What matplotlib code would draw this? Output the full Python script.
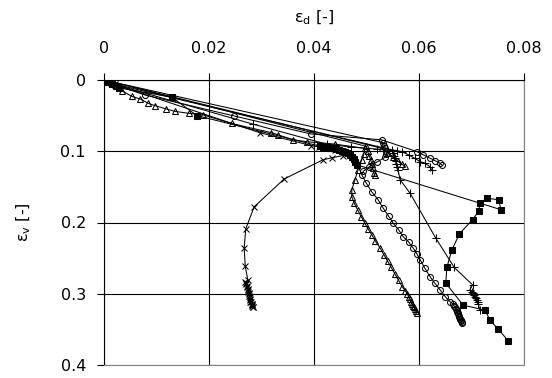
import matplotlib
matplotlib.use("Agg")
import matplotlib.pyplot as plt

plt.rcParams['font.family'] = ['DejaVu Sans']
plt.rcParams['mathtext.default'] = 'regular'

# deviatoric strain (eps_d) and volumetric strain (eps_v) per test
sq_d = [0, 0.0008, 0.0015, 0.0022, 0.0028, 0.0129, 0.0177,
        0.0412, 0.0418, 0.0424, 0.0430, 0.0436, 0.0442, 0.0448, 0.0454, 0.0459,
        0.0464, 0.0469, 0.0473, 0.0476, 0.0479, 0.0481,
        0.0756, 0.0752, 0.0729, 0.0716, 0.0714, 0.0702, 0.0677, 0.0663, 0.0653,
        0.0651, 0.0684, 0.0726, 0.0735, 0.0750, 0.0770]
sq_v = [0, 0.003, 0.006, 0.009, 0.011, 0.024, 0.050,
        0.093, 0.0935, 0.094, 0.095, 0.096, 0.097, 0.098, 0.0995, 0.101,
        0.103, 0.105, 0.108, 0.111, 0.115, 0.119,
        0.182, 0.168, 0.166, 0.173, 0.184, 0.196, 0.216, 0.238, 0.263,
        0.285, 0.316, 0.323, 0.337, 0.349, 0.366]

c1_d = [0, 0.0012, 0.0025, 0.0078, 0.0248, 0.0394, 0.0529,
        0.0596, 0.0608, 0.0621, 0.0630, 0.0640, 0.0644]
c1_v = [0, 0.004, 0.008, 0.021, 0.0505, 0.0757, 0.084,
        0.1005, 0.105, 0.1098, 0.113, 0.1167, 0.1197]

c2_d = [0, 0.0532, 0.0534, 0.0536, 0.0537, 0.0538, 0.0536, 0.0520, 0.0505,
        0.0494, 0.0491, 0.0499, 0.0510, 0.0522, 0.0532, 0.0542, 0.0551, 0.0561,
        0.0570, 0.0580, 0.0589, 0.0596, 0.0602, 0.0611, 0.0621, 0.0630, 0.0640,
        0.0650, 0.0659, 0.0664, 0.0667, 0.0669, 0.0671, 0.0672, 0.0673, 0.0674,
        0.0675, 0.0676, 0.0677, 0.0678, 0.0679, 0.0680, 0.0680, 0.0681, 0.0681]
c2_v = [0, 0.088, 0.092, 0.096, 0.100, 0.104, 0.108, 0.115, 0.122,
        0.128, 0.133, 0.144, 0.157, 0.168, 0.180, 0.191, 0.201, 0.210,
        0.220, 0.227, 0.236, 0.244, 0.252, 0.264, 0.276, 0.285, 0.2945,
        0.304, 0.311, 0.314, 0.317, 0.319, 0.321, 0.323, 0.325, 0.327,
        0.329, 0.331, 0.333, 0.335, 0.336, 0.337, 0.338, 0.339, 0.341]

p1_d = [0, 0.0015, 0.0284, 0.0424, 0.0470, 0.0520, 0.0558, 0.0567, 0.0580,
        0.0592, 0.0602, 0.0611, 0.0621, 0.0624]
p1_v = [0, 0.005, 0.062, 0.090, 0.094, 0.097, 0.099, 0.1005, 0.105,
        0.110, 0.1146, 0.1168, 0.1216, 0.126]

p2_d = [0, 0.0010, 0.0548, 0.0551, 0.0553, 0.0555, 0.0556, 0.0557, 0.0558,
        0.0560, 0.0564, 0.0583, 0.0632, 0.0667, 0.0702, 0.0697, 0.0700, 0.0703,
        0.0705, 0.0707, 0.0709, 0.0710, 0.0712, 0.0713, 0.0716]
p2_v = [0, 0.004, 0.098, 0.102, 0.106, 0.110, 0.114, 0.118, 0.122,
        0.126, 0.140, 0.159, 0.222, 0.263, 0.2875, 0.2945, 0.297, 0.299,
        0.3015, 0.304, 0.306, 0.309, 0.311, 0.315, 0.3226]

x_d = [0, 0.0010, 0.0020, 0.0297, 0.0395, 0.0410, 0.0425, 0.0440, 0.0455,
       0.0465, 0.0455, 0.0435, 0.0417, 0.0343, 0.0286, 0.0270, 0.0267, 0.0269,
       0.0274, 0.0269, 0.0270, 0.0271, 0.0272, 0.0273, 0.0274, 0.0274, 0.0275,
       0.0276, 0.0276, 0.0277, 0.0278, 0.0278, 0.0279, 0.0279, 0.0280, 0.0281,
       0.0281, 0.0282, 0.0282, 0.0283, 0.0284]
x_v = [0, 0.003, 0.006, 0.074, 0.092, 0.094, 0.096, 0.098, 0.100,
       0.103, 0.106, 0.109, 0.112, 0.139, 0.178, 0.209, 0.236, 0.261,
       0.281, 0.283, 0.285, 0.287, 0.289, 0.291, 0.293, 0.295, 0.297,
       0.299, 0.301, 0.303, 0.305, 0.307, 0.309, 0.311, 0.312, 0.314,
       0.315, 0.316, 0.317, 0.318, 0.319]

t1_d = [0, 0.0034, 0.0053, 0.0069, 0.0084, 0.0097, 0.0119, 0.0135, 0.0161,
        0.0189, 0.0243, 0.0319, 0.0332, 0.0360, 0.0386, 0.0440, 0.0497, 0.0495,
        0.0491, 0.0484, 0.0478, 0.0472, 0.0472, 0.0476, 0.0483, 0.0490, 0.0497,
        0.0503, 0.0510, 0.0517, 0.0526, 0.0533, 0.0540, 0.0547, 0.0554, 0.0561,
        0.0568, 0.0574, 0.0578, 0.0580, 0.0583, 0.0585, 0.0587, 0.0589, 0.0591,
        0.0592, 0.0594, 0.0596]
t1_v = [0, 0.015, 0.023, 0.0266, 0.0327, 0.036, 0.0407, 0.044, 0.0467,
        0.049, 0.061, 0.074, 0.077, 0.084, 0.0865, 0.090, 0.096, 0.104,
        0.112, 0.126, 0.140, 0.154, 0.164, 0.172, 0.182, 0.192, 0.201,
        0.209, 0.217, 0.226, 0.236, 0.245, 0.254, 0.263, 0.272, 0.281,
        0.290, 0.296, 0.300, 0.304, 0.308, 0.311, 0.314, 0.317, 0.319,
        0.321, 0.324, 0.327]

t2_d = [0, 0.0499, 0.0502, 0.0505, 0.0508, 0.0510, 0.0512, 0.0514, 0.0516]
t2_v = [0, 0.093, 0.100, 0.106, 0.112, 0.118, 0.124, 0.130, 0.134]

t3_d = [0, 0.0530, 0.0540, 0.0550, 0.0560, 0.0567, 0.0573]
t3_v = [0, 0.096, 0.102, 0.108, 0.114, 0.118, 0.121]

fig = plt.figure(figsize=(5.52, 3.78), dpi=100)
ax = fig.add_axes([104 / 552, 1 - 365 / 378, 420 / 552, 285 / 378])

line_kw = dict(color='black', lw=0.75, mew=0.75, mec='black')
ax.plot(sq_d, sq_v, marker='s', ms=4.6, mfc='black', **line_kw)
ax.plot(c1_d, c1_v, marker='o', ms=4.3, mfc='none', **line_kw)
ax.plot(c2_d, c2_v, marker='o', ms=4.3, mfc='none', **line_kw)
ax.plot(p1_d, p1_v, marker='+', ms=5.5, **line_kw)
ax.plot(p2_d, p2_v, marker='+', ms=5.5, **line_kw)
ax.plot(x_d, x_v, marker='x', ms=4.5, **line_kw)
ax.plot(t1_d, t1_v, marker='^', ms=4.6, mfc='none', **line_kw)
ax.plot(t2_d, t2_v, marker='^', ms=4.6, mfc='none', **line_kw)
ax.plot(t3_d, t3_v, marker='^', ms=4.6, mfc='none', **line_kw)

ax.set_xlim(0, 0.08)
ax.set_ylim(0.4, 0)
ax.xaxis.tick_top()
ax.xaxis.set_label_position('top')

ax.set_xticks([0, 0.02, 0.04, 0.06, 0.08])
ax.set_xticklabels(['0', '0.02', '0.04', '0.06', '0.08'])
ax.set_yticks([0, 0.1, 0.2, 0.3, 0.4])
ax.set_yticklabels(['0', '0.1', '0.2', '0.3', '0.4'])

ax.grid(True, color='black', lw=0.8)
ax.set_axisbelow(True)

ax.tick_params(axis='x', direction='out', length=5, width=0.8, pad=12, labelsize=11.5)
ax.tick_params(axis='y', direction='out', length=5, width=0.8, pad=8, labelsize=11.5)

for side in ['left', 'top']:
    ax.spines[side].set_color('black')
    ax.spines[side].set_linewidth(0.8)
for side in ['right', 'bottom']:
    ax.spines[side].set_color('#808080')
    ax.spines[side].set_linewidth(0.8)

ax.set_xlabel('ε$_{d}$ [-]', fontsize=11.5, labelpad=14)
ax.set_ylabel('ε$_{v}$ [-]', fontsize=11.5, labelpad=20)

fig.savefig('out.png', dpi=100)
